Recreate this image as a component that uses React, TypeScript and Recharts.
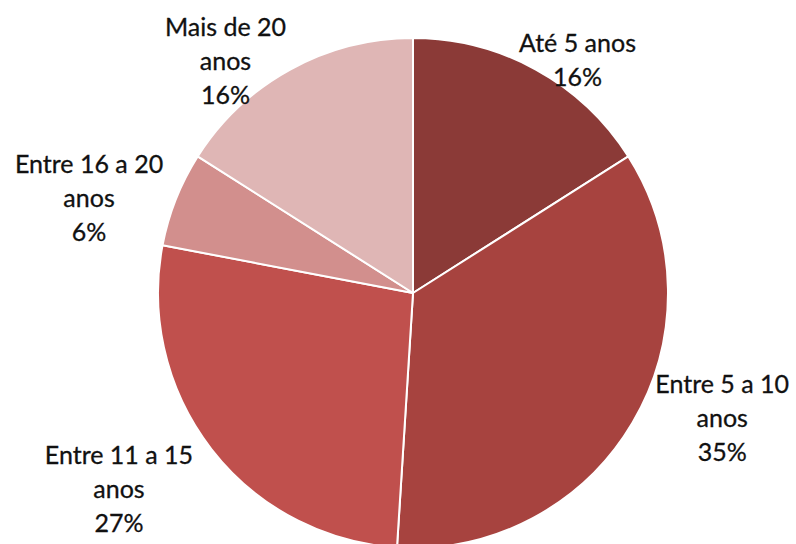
import { PieChart, Pie, Cell } from "recharts";

const categories = [
  "Até 5 anos",
  "Entre 5 a 10 anos",
  "Entre 11 a 15 anos",
  "Entre 16 a 20 anos",
  "Mais de 20 anos",
];
const shares = [16, 35, 27, 6, 16];
const colors = ["#8b3a37", "#a7433f", "#c0504d", "#d28f8d", "#dfb6b5"];

// label placement tweaks (px) on top of the polar position
const labelNudge = [
  [20, 30],
  [51, -28],
  [-57, 12],
  [-45, 15],
  [-43, 31],
];

const data = categories.map((name, i) => ({ name, value: shares[i] }));

const RAD = Math.PI / 180;

function splitName(name: string) {
  if (name.length <= 10) return [name];
  const cut = name.lastIndexOf(" ");
  return [name.slice(0, cut), name.slice(cut + 1)];
}

function SliceLabel(props: any) {
  const { cx, cy, midAngle, outerRadius, percent, index, name } = props;
  const r = outerRadius + 45;
  const [dx, dy] = labelNudge[index] || [0, 0];
  const x = cx + r * Math.cos(-midAngle * RAD) + dx;
  const y = cy + r * Math.sin(-midAngle * RAD) + dy;
  const lines = [...splitName(name), `${Math.round(percent * 100)}%`];
  const lh = 34;
  const cap = 18;
  const first = y - (cap + (lines.length - 1) * lh) / 2 + cap;
  return (
    <text
      x={x}
      y={first}
      textAnchor="middle"
      fill="#111"
      stroke="#111"
      strokeWidth={0.3}
      fontFamily="Lato, 'Open Sans', sans-serif"
      fontSize={25}
    >
      {lines.map((t, i) => (
        <tspan key={i} x={x} y={first + i * lh}>
          {t}
        </tspan>
      ))}
    </text>
  );
}

export default function App() {
  return (
    <div style={{ width: 796, height: 544, background: "#fff" }}>
      <style>{"body{margin:0}"}</style>
      <PieChart
        width={796}
        height={544}
        margin={{ top: 0, right: 0, bottom: 0, left: 0 }}
      >
        <Pie
          data={data}
          dataKey="value"
          nameKey="name"
          cx={413}
          cy={293}
          outerRadius={255}
          startAngle={90}
          endAngle={-270}
          stroke="#fff"
          strokeWidth={2}
          label={SliceLabel}
          labelLine={false}
          isAnimationActive={false}
        >
          {data.map((d, i) => (
            <Cell key={d.name} fill={colors[i]} />
          ))}
        </Pie>
      </PieChart>
    </div>
  );
}
